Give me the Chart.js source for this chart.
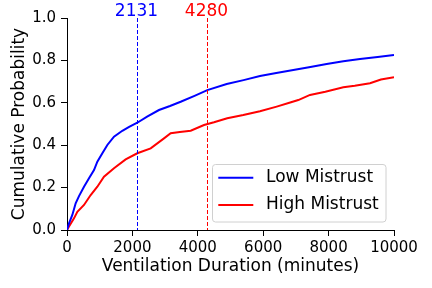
<!DOCTYPE html>
<html><head><meta charset="utf-8">
<script src="https://cdn.jsdelivr.net/npm/chart.js@4/dist/chart.umd.min.js"></script>
<style>html,body{margin:0;padding:0;background:#fff}#c{display:block}</style>
</head><body>
<canvas id="c" width="432" height="288"></canvas>
<script>
const lowX  = [0, 61, 163, 265, 367, 520, 673, 826, 928, 1081, 1234, 1437, 1692, 1900, 2150, 2450, 2813, 3150, 3476, 3900, 4291, 4884, 5400, 5902, 6400, 6921, 7400, 7941, 8450, 8960, 9500, 10000];
const lowY  = [0, 0.031, 0.071, 0.126, 0.16, 0.204, 0.244, 0.283, 0.322, 0.362, 0.401, 0.44, 0.468, 0.486, 0.506, 0.535, 0.566, 0.585, 0.605, 0.633, 0.66, 0.689, 0.707, 0.726, 0.741, 0.755, 0.768, 0.783, 0.796, 0.807, 0.816, 0.826];
const highX = [0, 61, 214, 316, 520, 724, 928, 1131, 1437, 1794, 2150, 2559, 2966, 3171, 3450, 3783, 4190, 4495, 4900, 5391, 5900, 6413, 6800, 7073, 7431, 7900, 8450, 8800, 9266, 9600, 10000];
const highY = [0, 0.016, 0.055, 0.086, 0.118, 0.165, 0.204, 0.251, 0.291, 0.333, 0.362, 0.385, 0.432, 0.456, 0.462, 0.468, 0.495, 0.508, 0.527, 0.542, 0.56, 0.582, 0.6, 0.613, 0.637, 0.652, 0.673, 0.68, 0.692, 0.71, 0.72];
const seriesNames = ['Low Mistrust', 'High Mistrust'];
const seriesColors = ['#0000ff', '#ff0000'];
const medians = [2131, 4280];
const xTicks = [0, 2000, 4000, 6000, 8000, 10000];
const yTicks = [0, 0.2, 0.4, 0.6, 0.8, 1.0];

const FONT = 'DejaVu Sans';
Chart.defaults.color = '#000';
Chart.defaults.font.family = FONT;

const pts = (xs, ys) => xs.map((x, i) => ({x: x, y: ys[i]}));

const overlay = {
  id: 'overlay',
  afterDatasetsDraw(chart) {
    const ctx = chart.ctx, xs = chart.scales.x, area = chart.chartArea;
    ctx.save();
    medians.forEach((m, i) => {
      const px = Math.round(xs.getPixelForValue(m)) + 0.5;
      ctx.strokeStyle = seriesColors[i];
      ctx.lineWidth = 1;
      ctx.setLineDash([4, 2]);
      ctx.beginPath();
      ctx.moveTo(px, area.top);
      ctx.lineTo(px, area.bottom);
      ctx.stroke();
      ctx.setLineDash([]);
      ctx.fillStyle = seriesColors[i];
      ctx.font = '17px ' + FONT;
      ctx.textAlign = 'center';
      ctx.textBaseline = 'alphabetic';
      ctx.fillText(String(m), px - 1, area.top - 2);
    });
    // legend
    const bx = 212.5, by = 164.5, bw = 173.5, bh = 57.5;
    ctx.fillStyle = 'rgba(255,255,255,0.8)';
    ctx.strokeStyle = '#d0d0d0';
    ctx.lineWidth = 1;
    ctx.beginPath();
    ctx.roundRect(bx, by, bw, bh, 3);
    ctx.fill();
    ctx.stroke();
    seriesNames.forEach((n, i) => {
      const yy = 177.7 + i * 27.3;
      ctx.strokeStyle = seriesColors[i];
      ctx.lineWidth = 2;
      ctx.beginPath();
      ctx.moveTo(218.3, yy);
      ctx.lineTo(253.3, yy);
      ctx.stroke();
      ctx.fillStyle = '#000';
      ctx.font = '17px ' + FONT;
      ctx.textAlign = 'left';
      ctx.textBaseline = 'middle';
      ctx.fillText(n, 266, yy);
    });
    ctx.restore();
  }
};

new Chart(document.getElementById('c'), {
  type: 'line',
  data: {
    datasets: [
      {label: seriesNames[0], data: pts(lowX, lowY), borderColor: seriesColors[0], borderWidth: 2, pointRadius: 0, tension: 0, fill: false},
      {label: seriesNames[1], data: pts(highX, highY), borderColor: seriesColors[1], borderWidth: 2, pointRadius: 0, tension: 0, fill: false}
    ]
  },
  options: {
    responsive: false,
    animation: false,
    devicePixelRatio: 1,
    layout: {padding: {left: 0, right: 38, top: 18, bottom: 0}},
    plugins: {legend: {display: false}, tooltip: {enabled: false}},
    scales: {
      x: {
        type: 'linear', min: 0, max: 10000,
        afterBuildTicks: s => { s.ticks = xTicks.map(v => ({value: v})); },
        afterFit: s => { s.height = 58; },
        grid: {drawOnChartArea: false, drawTicks: true, tickLength: 6, color: '#000', tickWidth: 1},
        border: {display: true, color: '#000', width: 1},
        ticks: {font: {size: 15, family: FONT}, color: '#000', padding: 3, maxRotation: 0, autoSkip: false,
                callback: v => String(v)},
        title: {display: true, text: 'Ventilation Duration (minutes)', font: {size: 17, family: FONT}, color: '#000', padding: {top: 0, bottom: 11}}
      },
      y: {
        type: 'linear', min: 0, max: 1,
        afterBuildTicks: s => { s.ticks = yTicks.map(v => ({value: v})); },
        afterFit: s => { s.width = 67; },
        grid: {drawOnChartArea: false, drawTicks: true, tickLength: 6, color: '#000', tickWidth: 1},
        border: {display: true, color: '#000', width: 1},
        ticks: {font: {size: 15, family: FONT}, color: '#000', padding: 5, autoSkip: false,
                callback: v => Number(v).toFixed(1)},
        title: {display: true, text: 'Cumulative Probability', font: {size: 17, family: FONT}, color: '#000', padding: {top: 9, bottom: 0}}
      }
    }
  },
  plugins: [overlay]
});
</script>
</body></html>
